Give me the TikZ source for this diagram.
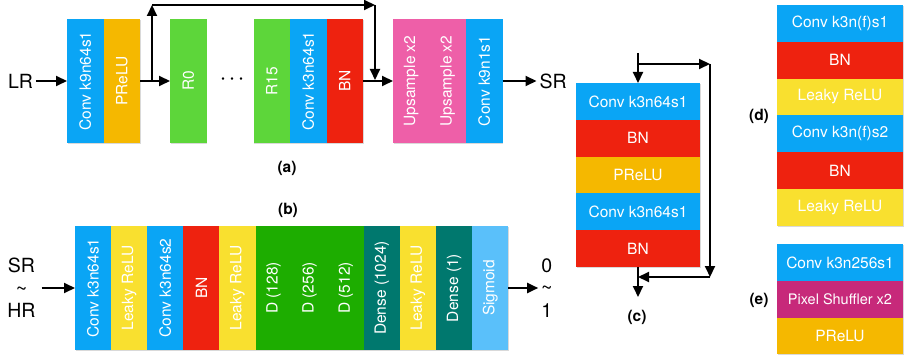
\documentclass[tikz,border=0pt]{standalone}
\usepackage{fontspec}
\setmainfont{TeX Gyre Heros}
\usepackage{tikz}
\usetikzlibrary{arrows.meta, positioning, shadows}

\definecolor{convblue}{HTML}{0AA5F5}
\definecolor{preluorange}{HTML}{F5B800}
\definecolor{resgreen}{HTML}{5DD63A}
\definecolor{bnred}{HTML}{EE220F}
\definecolor{uppink}{HTML}{EE5FA8}
\definecolor{leakyyellow}{HTML}{F9E02F}
\definecolor{dgreen}{HTML}{1DAD00}
\definecolor{denseteal}{HTML}{00786E}
\definecolor{sigblue}{HTML}{5AC0FA}
\definecolor{shufflepink}{HTML}{C7297A}

\tikzset{
  blk/.style={minimum width=36.5pt, minimum height=124pt, inner sep=0pt, outer sep=0pt,
    text=white, font=\fontsize{15.5}{18}\selectfont,
    drop shadow={shadow xshift=0.8pt, shadow yshift=-1.2pt, opacity=0.3}},
  row/.style={minimum width=124pt, minimum height=36.8pt, inner sep=0pt, outer sep=0pt,
    text=white, font=\fontsize{15.5}{18}\selectfont,
    drop shadow={shadow xshift=0.8pt, shadow yshift=-1.2pt, opacity=0.3}},
  io/.style={font=\fontsize{19.5}{22.5}\selectfont, inner sep=2pt},
  lbl/.style={font=\fontsize{15.5}{18}\selectfont\bfseries},
}
\newcommand{\vt}[1]{\rotatebox{90}{#1}}

\begin{document}
\begin{tikzpicture}[x=1pt, y=-1pt, node distance=0pt, line width=2pt,
  >={Triangle[length=11pt,width=10pt]}]
\useasboundingbox (0,0) rectangle (904,355);

% (a) generator
\node (lr) at (20.5,81) [io] {LR};
\node (g1) at (85.25,81) [blk, fill=convblue] {\vt{Conv k9n64s1}};
\node (g2) [blk, fill=preluorange, right=of g1] {\vt{PReLU}};
\node (g3) [blk, fill=resgreen, right=30pt of g2] {\vt{R0}};
\node (gdots) at (232,80) [font=\fontsize{10}{12}\selectfont] {\textbullet\hspace{5.5pt}\textbullet\hspace{5.5pt}\textbullet};
\node (g4) [blk, fill=resgreen, right=47pt of g3] {\vt{R15}};
\node (g5) [blk, fill=convblue, right=of g4] {\vt{Conv k3n64s1}};
\node (g6) [blk, fill=bnred, right=of g5] {\vt{BN}};
\node (g7) [blk, fill=uppink, right=30pt of g6] {\vt{Upsample x2}};
\node (g8) [blk, fill=uppink, right=of g7] {\vt{Upsample x2}};
\node (g9) [blk, fill=convblue, right=of g8] {\vt{Conv k9n1s1}};
\node (sr) [io, right=34pt of g9] {SR};
\node (capa) at (287,168) [lbl] {(a)};

\coordinate (s1) at (152,81);
\coordinate (s2) at (152,5);
\coordinate (s3) at (375,5);
\coordinate (s4) at (375,80);

\path[->] (lr) edge (g1);
\path[->] (g2) edge (g3);
\path[->] (g6) edge (g7);
\path[->] (g9) edge (sr);
\path[->] (s1) edge (s2);
\path[->] (s2) edge (s3);
\path[->] (s3) edge (s4);

% (b) discriminator
\node (capb) at (288,210) [lbl] {(b)};
\node (din) at (21.5,288) [io, align=center, inner sep=5pt] {SR\\\textasciitilde\\HR};
\node (d1) at (93.05,288) [blk, minimum width=36.1pt, fill=convblue] {\vt{Conv k3n64s1}};
\node (d2) [blk, minimum width=36.1pt, fill=leakyyellow, right=of d1] {\vt{Leaky ReLU}};
\node (d3) [blk, minimum width=36.1pt, fill=convblue, right=of d2] {\vt{Conv k3n64s2}};
\node (d4) [blk, minimum width=36.1pt, fill=bnred, right=of d3] {\vt{BN}};
\node (d5) [blk, minimum width=36.1pt, fill=leakyyellow, right=of d4] {\vt{Leaky ReLU}};
\node (d6) [blk, minimum width=36.1pt, fill=dgreen, right=of d5] {\vt{D (128)}};
\node (d7) [blk, minimum width=36.1pt, fill=dgreen, right=of d6] {\vt{D (256)}};
\node (d8) [blk, minimum width=36.1pt, fill=dgreen, right=of d7] {\vt{D (512)}};
\node (d9) [blk, minimum width=36.1pt, fill=denseteal, right=of d8] {\vt{Dense (1024)}};
\node (d10) [blk, minimum width=36.1pt, fill=leakyyellow, right=of d9] {\vt{Leaky ReLU}};
\node (d11) [blk, minimum width=36.1pt, fill=denseteal, right=of d10] {\vt{Dense (1)}};
\node (d12) [blk, minimum width=36.1pt, fill=sigblue, right=of d11] {\vt{Sigmoid}};
\node (dout) [io, align=center, right=30pt of d12] {0\\\textasciitilde\\1};

\path[->] (din) edge (d1);
\path[->] (d12) edge (dout);

% (c) residual block
\node (c1) at (638,101.4) [row, fill=convblue] {Conv k3n64s1};
\node (c2) [row, fill=bnred, below=of c1] {BN};
\node (c3) [row, fill=preluorange, below=of c2] {PReLU};
\node (c4) [row, fill=convblue, below=of c3] {Conv k3n64s1};
\node (c5) [row, fill=bnred, below=of c4] {BN};
\node (capc) at (637,317) [lbl] {(c)};

\coordinate (cin) at (638,53);
\coordinate (cout) at (638,297);
\coordinate (k1) at (638,64);
\coordinate (k2) at (710,64);
\coordinate (k3) at (710,277);
\coordinate (k4) at (638,277);

\path[->] (cin) edge (c1);
\path[->] (c5) edge (cout);
\path[->] (k1) edge (k2);
\path[->] (k2) edge (k3);
\path[->] (k3) edge (k4);

% (d) discriminator block
\node (e1) at (840,23.4) [row, minimum width=126pt, fill=convblue] {Conv k3n(f)s1};
\node (e2) [row, minimum width=126pt, fill=bnred, below=of e1] {BN};
\node (e3) [row, minimum width=126pt, fill=leakyyellow, below=of e2] {Leaky ReLU};
\node (e4) [row, minimum width=126pt, fill=convblue, below=of e3] {Conv k3n(f)s2};
\node (e5) [row, minimum width=126pt, fill=bnred, below=of e4] {BN};
\node (e6) [row, minimum width=126pt, fill=leakyyellow, below=of e5] {Leaky ReLU};
\node (capd) at (759,116) [lbl] {(d)};

% (e) upsample block
\node (f1) at (840,262.4) [row, minimum width=126pt, fill=convblue] {Conv k3n256s1};
\node (f2) [row, minimum width=126pt, fill=shufflepink, below=of f1, font=\fontsize{14.5}{17}\selectfont] {Pixel Shuffler x2};
\node (f3) [row, minimum width=126pt, fill=preluorange, below=of f2] {PReLU};
\node (cape) at (759,300) [lbl] {(e)};
\end{tikzpicture}
\end{document}
